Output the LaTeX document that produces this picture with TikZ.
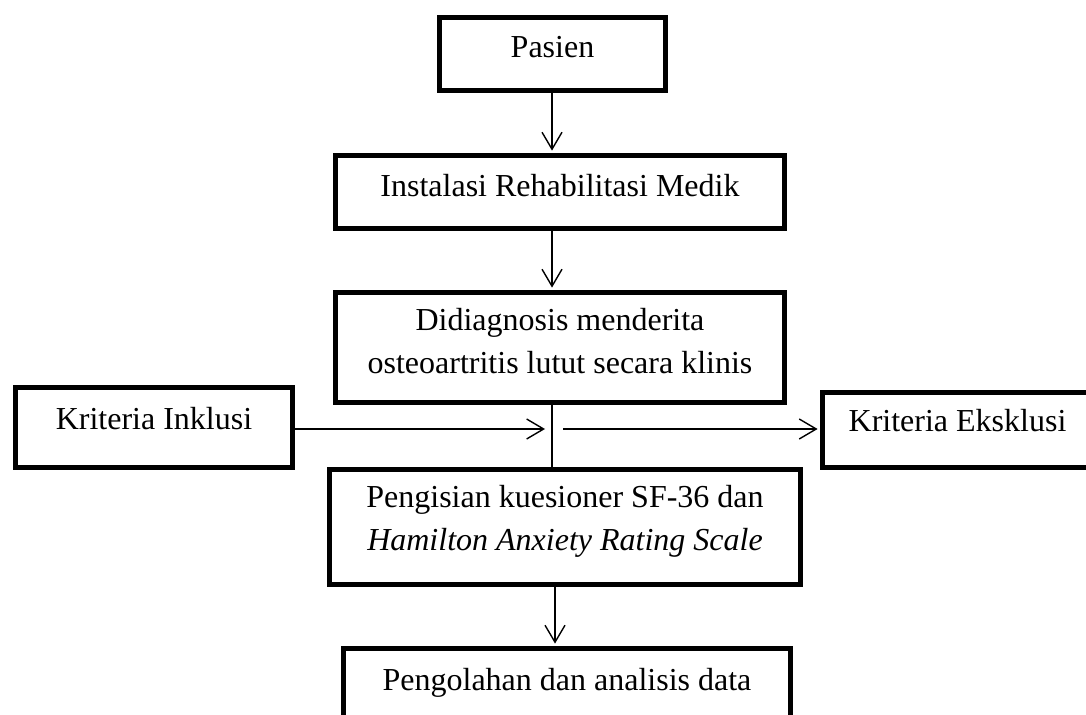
\documentclass[tikz,border=0pt]{standalone}
\usepackage{fontspec}
\setmainfont{Liberation Serif}
\usetikzlibrary{arrows.meta,calc}
\begin{document}
\begin{tikzpicture}[x=0.5pt,y=-0.5pt,
  box/.style={draw, line width=2.5pt, inner xsep=0pt, inner ysep=0pt, minimum height=0pt,
    align=center, anchor=north west, font=\fontsize{16pt}{21.5pt}\selectfont},
  arr/.style={line width=0.7pt, -{Straight Barb[length=8.5pt,width=10pt,line width=0.7pt]}, shorten >=1.2pt},
  ln/.style={line width=0.7pt}]
\useasboundingbox (0,0) rectangle (1086,715);

\node[box, minimum width=113pt, text height=20pt, text depth=16.5pt] (pasien) at (437,15) {Pasien};
\node[box, minimum width=224.5pt, text height=20.5pt, text depth=16pt] (inst) at (333,153) {Instalasi Rehabilitasi Medik};
\node[box, minimum width=224.5pt, text height=40.5pt, text depth=14.5pt] (didi) at (333,290) {Didiagnosis menderita\\osteoartritis lutut secara klinis};
\node[box, minimum width=138.5pt, text height=21pt, text depth=19pt] (inkl) at (13,385) {Kriteria Inklusi};
\node[box, minimum width=135pt, text height=19.5pt, text depth=18pt] (eksk) at (820,390) {Kriteria Eksklusi};
\node[box, minimum width=235.5pt, text height=40.5pt, text depth=17pt] (peng) at (327,467) {Pengisian kuesioner SF-36 dan\\\textit{Hamilton Anxiety Rating Scale}};
\node[box, minimum width=223.5pt, text height=21pt, text depth=26pt] (olah) at (341,646) {Pengolahan dan analisis data};

\coordinate (sp) at (552,0);
\coordinate (jl) at (545,429);
\coordinate (jr) at (563,429);
\coordinate (c4) at (555,0);

\draw[arr] (sp |- pasien.south) -- (sp |- inst.north);
\draw[arr] (sp |- inst.south) -- (sp |- didi.north);
\draw[ln] (sp |- didi.south) -- (sp |- peng.north);
\draw[arr, shorten >=0pt] (inkl.east |- jl) -- (jl);
\draw[arr] (jr) -- (jr -| eksk.west);
\draw[arr] (c4 |- peng.south) -- (c4 |- olah.north);
\end{tikzpicture}
\end{document}
